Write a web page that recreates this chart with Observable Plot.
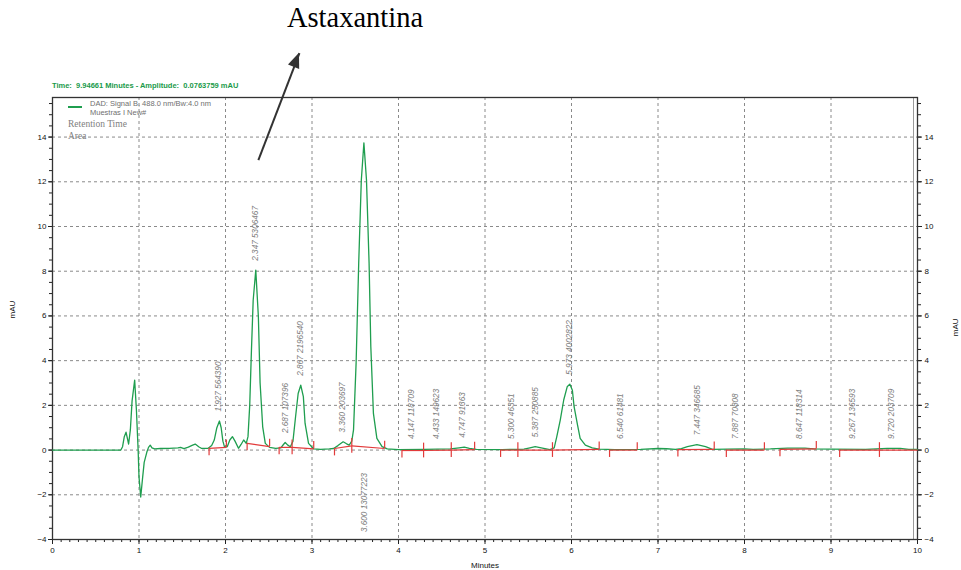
<!DOCTYPE html>
<html>
<head>
<meta charset="utf-8">
<script src="https://cdn.jsdelivr.net/npm/d3@7"></script>
<script src="https://cdn.jsdelivr.net/npm/@observablehq/plot@0.6"></script>
<style>
  body { margin: 0; background: #fff; }
  #wrap { position: relative; width: 961px; height: 570px; font-family: "Liberation Sans", Arial, sans-serif; overflow: hidden; }
  #wrap svg { position: absolute; left: 0; top: 0; }
  .title { position: absolute; left: 0; width: 710px; top: 2px; text-align: center; font: 28.5px "Liberation Serif", "Times New Roman", serif; color: #000; }
  .status { position: absolute; left: 52px; top: 81px; font: bold 7.5px/10px "Liberation Sans", Arial, sans-serif; color: #1a9a4a; white-space: pre; }
  .lg { position: absolute; white-space: pre; color: #707070; }
  .sw { position: absolute; left: 68px; top: 106px; width: 14px; height: 2px; background: #1f9e4f; }
</style>
</head>
<body>
<div id="wrap">
  <div class="title">Astaxantina</div>
  <div class="status">Time:  9.94661 Minutes - Amplitude:  0.0763759 mAU</div>
  <div class="sw"></div>
  <div class="lg" style="left:90px;top:98.5px;font:7.5px/10px 'Liberation Sans',Arial,sans-serif;">DAD: Signal B, 488.0 nm/Bw:4.0 nm</div>
  <div class="lg" style="left:90px;top:107.5px;font:7.5px/10px 'Liberation Sans',Arial,sans-serif;">Muestras I New#</div>
  <div class="lg" style="left:68px;top:117.5px;font:9.5px/12px 'Liberation Serif','Times New Roman',serif;color:#808080;">Retention Time</div>
  <div class="lg" style="left:68px;top:129.5px;font:9.5px/12px 'Liberation Serif','Times New Roman',serif;color:#808080;">Area</div>
</div>
<script>
// ---------- DATA ----------
// Chromatogram trace (minutes, mAU)
const traceTime = [0.00,0.50,0.79,0.81,0.83,0.85,0.87,0.88,0.90,0.92,0.95,0.97,0.99,1.00,1.02,1.04,1.06,1.09,1.11,1.13,1.15,1.18,1.25,1.35,1.45,1.48,1.52,1.57,1.62,1.65,1.69,1.72,1.80,1.84,1.87,1.90,1.93,1.95,1.97,1.99,2.02,2.05,2.08,2.11,2.15,2.18,2.21,2.24,2.26,2.28,2.30,2.32,2.35,2.38,2.40,2.43,2.46,2.51,2.58,2.64,2.67,2.69,2.72,2.75,2.78,2.81,2.84,2.87,2.90,2.92,2.96,3.02,3.10,3.20,3.25,3.30,3.36,3.40,3.43,3.46,3.48,3.51,3.54,3.57,3.60,3.63,3.66,3.68,3.71,3.75,3.81,3.87,4.00,4.30,4.60,4.70,4.76,4.82,4.90,5.20,5.45,5.52,5.58,5.65,5.75,5.80,5.83,5.87,5.91,5.95,5.98,6.01,6.03,6.07,6.10,6.16,6.24,6.32,6.50,6.80,7.00,7.10,7.20,7.27,7.34,7.45,7.55,7.63,7.80,8.00,8.10,8.30,8.50,8.70,8.80,9.00,9.40,9.65,9.80,9.90,10.00];
const traceMAU  = [0.00,0.00,0.00,0.15,0.60,0.80,0.45,0.27,0.90,2.20,3.13,1.80,0.00,-1.20,-2.10,-1.30,-0.55,-0.10,0.12,0.22,0.10,0.05,0.07,0.08,0.10,0.12,0.06,0.13,0.22,0.27,0.15,0.08,0.08,0.20,0.45,1.00,1.30,1.00,0.40,0.12,0.15,0.45,0.60,0.40,0.08,0.25,0.45,0.30,0.60,2.00,4.47,6.70,8.05,5.96,3.00,1.04,0.30,0.12,0.08,0.10,0.25,0.34,0.22,0.15,0.40,1.49,2.53,2.90,2.39,1.19,0.30,0.05,0.03,0.05,0.07,0.20,0.37,0.28,0.22,0.40,0.90,3.90,8.36,12.07,13.74,12.07,8.36,4.62,1.64,0.52,0.15,0.05,0.02,0.03,0.05,0.10,0.13,0.08,0.03,0.02,0.04,0.10,0.15,0.10,0.02,0.10,0.60,1.34,2.24,2.83,2.95,2.68,1.94,1.12,0.52,0.22,0.10,0.04,0.02,0.03,0.07,0.06,0.03,0.06,0.15,0.24,0.15,0.03,0.04,0.05,0.03,0.05,0.09,0.09,0.05,0.04,0.03,0.08,0.08,0.03,0.03];

// Peak annotations: retention time, area, where the label stands, above/below
const peakRT    = ["1.927","2.347","2.687","2.867","3.360","3.600","4.147","4.433","4.747","5.300","5.387","5.973","6.540","7.447","7.887","8.647","9.267","9.720"];
const peakArea  = ["564390","5306467","107396","2196540","203697","13077223","118709","149623","91363","46351","250885","4002822","61481","346685","70808","118314","136593","203709"];
const labelTime = [1.92,2.35,2.69,2.87,3.35,3.60,4.15,4.44,4.74,5.31,5.58,5.97,6.57,7.46,7.90,8.64,9.25,9.70];
const labelSide = ["above","above","above","above","above","below","above","above","above","above","above","above","above","above","above","above","above","above"];

// Integration baselines (start time, start mAU, end time, end mAU)
const baseStartT = [1.81,2.25,2.62,2.77,3.26,3.46,4.04,4.29,4.61,5.18,5.38,5.78,6.44,7.23,7.79,8.41,9.10,9.56];
const baseStartV = [0.08,0.30,0.12,0.12,0.07,0.19,-0.02,-0.02,0.00,0.00,0.00,0.00,0.00,0.02,0.00,0.03,0.00,0.00];
const baseEndT   = [2.01,2.51,2.77,3.02,3.46,3.84,4.29,4.61,4.88,5.38,5.78,6.32,6.76,7.65,8.23,8.83,9.56,10.00];
const baseEndV   = [0.12,0.15,0.12,0.05,0.19,0.07,-0.02,0.00,0.02,0.00,0.00,0.03,0.00,0.03,0.00,0.05,0.00,0.00];

// Axis ticks
const xTicks = [0,1,2,3,4,5,6,7,8,9,10];
const yTicks = [-4,-2,0,2,4,6,8,10,12,14];

// Annotation arrow (minutes, mAU)
const arrowFrom = [2.38, 12.97];
const arrowTo   = [2.855, 17.75];

// ---------- BUILD ----------
const trace = traceTime.map((t, i) => ({t, v: traceMAU[i]}));
const segs = baseStartT.map((t, i) => ({t0: t, v0: baseStartV[i], t1: baseEndT[i], v1: baseEndV[i]}));
const labels = peakRT.map((rt, i) => {
  const lt = labelTime[i];
  const apex = d3.max(trace.filter(d => Math.abs(d.t - lt) <= 0.035), d => d.v) ?? 0;
  const y = labelSide[i] === "below" ? -3.67 : Math.max(apex + 0.42, 0.5);
  return {t: lt, y, text: rt + " " + peakArea[i]};
});

const minorX = d3.range(0, 100.5).map(i => i / 10);
const minorY = d3.range(-8, 32).map(i => i / 2);
const green = "#1f9e4f";
const red = "#e23a3a";

const plot = Plot.plot({
  width: 961,
  height: 570,
  marginLeft: 52,
  marginRight: 44,
  marginTop: 97,
  marginBottom: 31,
  x: {domain: [0, 10]},
  y: {domain: [-4, 15.77]},
  style: {fontFamily: "'Liberation Sans', Arial, sans-serif", fontSize: "8px", background: "transparent", overflow: "visible", color: "#111"},
  marks: [
    Plot.gridX(xTicks.slice(1, -1), {stroke: "#8a8a8a", strokeOpacity: 1, strokeDasharray: "3,3"}),
    Plot.gridY(yTicks, {stroke: "#8a8a8a", strokeOpacity: 1, strokeDasharray: "3,3"}),
    Plot.axisX(minorX, {tickSize: 3, text: null, label: null, stroke: "#222"}),
    Plot.axisX(xTicks, {tickSize: 5, tickPadding: 3, label: null, fontSize: 8, stroke: "#222"}),
    Plot.axisY(minorY, {anchor: "left", tickSize: 3, text: null, label: null, stroke: "#222"}),
    Plot.axisY(yTicks, {anchor: "left", tickSize: 4, tickPadding: 2, label: null, fontSize: 8, stroke: "#222"}),
    Plot.axisY(minorY, {anchor: "right", tickSize: 3, text: null, label: null, stroke: "#222"}),
    Plot.axisY(yTicks, {anchor: "right", tickSize: 4, tickPadding: 3, label: null, fontSize: 8, stroke: "#222"}),
    Plot.frame({anchor: "right", stroke: "#9a9a9a", insetRight: 4}),
    Plot.frame({stroke: "#333", strokeWidth: 1.3}),
    Plot.line(trace, {x: "t", y: "v", stroke: green, strokeWidth: 1.3}),
    Plot.link(segs, {x1: "t0", y1: "v0", x2: "t1", y2: "v1", stroke: red, strokeWidth: 1.2}),
    Plot.ruleX(segs, {x: "t0", y1: "v0", y2: d => d.v0 - 0.33, stroke: red, strokeWidth: 1.2}),
    Plot.ruleX(segs.filter(d => d.t1 < 10), {x: "t1", y1: "v1", y2: d => d.v1 + 0.33, stroke: red, strokeWidth: 1.2}),
    Plot.text(labels, {x: "t", y: "y", text: "text", rotate: -90, textAnchor: "start", lineAnchor: "middle", fill: "#808080", fontSize: 8.2, fontStyle: "italic"}),
    Plot.text(["mAU"], {frameAnchor: "left", dx: -40, rotate: -90, fontSize: 8, fill: "#111"}),
    Plot.text(["mAU"], {frameAnchor: "right", dx: 38, rotate: -90, fontSize: 8, fill: "#111"}),
    Plot.text(["Minutes"], {frameAnchor: "bottom", dy: 28, fontSize: 8, fill: "#111"}),
    Plot.link([{a: arrowFrom, b: arrowTo}], {x1: d => d.a[0], y1: d => d.a[1], x2: d => d.b[0], y2: d => d.b[1], stroke: "#333", strokeWidth: 2})
  ]
});

// filled arrow head placed through the plot's own scales
const sx = plot.scale("x"), sy = plot.scale("y");
const tx = sx.apply(arrowTo[0]), ty = sy.apply(arrowTo[1]);
const bx = sx.apply(arrowFrom[0]), by = sy.apply(arrowFrom[1]);
const L = Math.hypot(tx - bx, ty - by);
const ux = (tx - bx) / L, uy = (ty - by) / L;
const hl = 15, hw = 6;
const cx = tx - ux * hl, cy = ty - uy * hl;
d3.select(plot).append("polygon")
  .attr("points", [[tx, ty], [cx - uy * hw, cy + ux * hw], [cx + uy * hw, cy - ux * hw]].map(p => p.join(",")).join(" "))
  .attr("fill", "#333");

document.getElementById("wrap").prepend(plot);
</script>
</body>
</html>
